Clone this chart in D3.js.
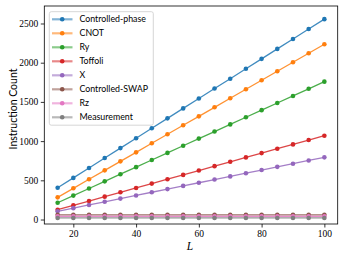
<!DOCTYPE html>
<head>
    <meta charset="utf-8">
    <script src="https://d3js.org/d3.v7.min.js"></script>
    <style>
        body { margin: 0; background: #fff; }
        .tick text { font-family: "Liberation Serif", serif; font-size: 9.5px; fill: #000; }
        .legend text { font-family: Lato, sans-serif; font-size: 8.8px; fill: #000; }
    </style>
</head>
<body>
    <svg id="chart" width="344" height="258"></svg>
    <script type="text/javascript">
        // L values along the x axis
        var Ls = [15, 20, 25, 30, 35, 40, 45, 50, 55, 60, 65, 70, 75, 80, 85, 90, 95, 100];

        var names = ["Controlled-phase", "CNOT", "Ry", "Toffoli", "X", "Controlled-SWAP", "Rz", "Measurement"];
        var colors = ["#1f77b4", "#ff7f0e", "#2ca02c", "#d62728", "#9467bd", "#8c564b", "#e377c2", "#7f7f7f"];

        var controlledPhase = [405, 531, 658, 784, 911, 1037, 1164, 1290, 1417, 1543, 1670, 1796, 1923, 2049, 2176, 2302, 2429, 2555];
        var cnot = [283, 398, 513, 627, 742, 857, 972, 1087, 1202, 1316, 1431, 1546, 1661, 1776, 1891, 2005, 2120, 2235];
        var ry = [214, 305, 396, 487, 578, 668, 759, 850, 941, 1032, 1122, 1213, 1304, 1395, 1486, 1576, 1667, 1758];
        var toffoli = [125, 181, 236, 292, 347, 403, 458, 514, 569, 625, 681, 736, 792, 847, 903, 958, 1014, 1069];
        var xGate = [105, 145, 186, 226, 267, 307, 348, 388, 429, 469, 510, 550, 591, 631, 672, 712, 753, 793];
        var cswap = [60, 60, 60, 60, 60, 60, 60, 60, 60, 60, 60, 60, 60, 60, 60, 60, 60, 60];
        var rz = [40, 40, 40, 40, 40, 40, 40, 40, 40, 40, 40, 40, 40, 40, 40, 40, 40, 40];
        var measurement = [20, 20, 20, 20, 20, 20, 20, 20, 20, 20, 20, 20, 20, 20, 20, 20, 20, 20];

        var yTicks = [0, 500, 1000, 1500, 2000, 2500];
        var xTicks = [20, 40, 60, 80, 100];

        var seriesValues = [controlledPhase, cnot, ry, toffoli, xGate, cswap, rz, measurement];
        var series = names.map(function(n, i) {
            return { name: n, color: colors[i], values: seriesValues[i] };
        });

        var plotLeft = 44.3, plotRight = 337.7, plotTop = 6, plotBottom = 224;
        var svg = d3.select("#chart");

        var x = d3.scaleLinear().domain([10.75, 104.25]).range([plotLeft, plotRight]);
        var y = d3.scaleLinear().domain([-57, 2723]).range([plotBottom, plotTop]);

        // axes
        var xAxis = svg.append("g")
            .attr("transform", "translate(0," + plotBottom + ")")
            .call(d3.axisBottom(x).tickValues(xTicks).tickFormat(d3.format("d")).tickSize(3.5).tickPadding(2.5));
        var yAxis = svg.append("g")
            .attr("transform", "translate(" + plotLeft + ",0)")
            .call(d3.axisLeft(y).tickValues(yTicks).tickFormat(d3.format("d")).tickSize(3.5).tickPadding(2.5));
        [xAxis, yAxis].forEach(function(a) {
            a.select(".domain").remove();
            a.selectAll(".tick line").attr("stroke", "#000").attr("stroke-width", 0.8);
        });

        // lines + markers
        var line = d3.line()
            .x(function(d, i) { return x(Ls[i]); })
            .y(function(d) { return y(d); });

        series.forEach(function(s) {
            svg.append("path")
                .attr("d", line(s.values))
                .attr("fill", "none")
                .attr("stroke", s.color)
                .attr("stroke-opacity", 0.85)
                .attr("stroke-width", 1.3);
            svg.append("g").selectAll("circle")
                .data(s.values).enter()
                .append("circle")
                .attr("cx", function(d, i) { return x(Ls[i]); })
                .attr("cy", function(d) { return y(d); })
                .attr("r", 2.3)
                .attr("fill", s.color);
        });

        // frame
        svg.append("rect")
            .attr("x", plotLeft).attr("y", plotTop)
            .attr("width", plotRight - plotLeft).attr("height", plotBottom - plotTop)
            .attr("fill", "none").attr("stroke", "#000").attr("stroke-width", 0.8);

        // legend
        var lg = svg.append("g").attr("class", "legend");
        lg.append("rect")
            .attr("x", 49.3).attr("y", 11.7)
            .attr("width", 104).attr("height", 113.5)
            .attr("rx", 2)
            .attr("fill", "#fff").attr("fill-opacity", 0.8)
            .attr("stroke", "#ccc").attr("stroke-width", 0.8);
        series.forEach(function(s, i) {
            var ly = 19.3 + i * 14;
            lg.append("line")
                .attr("x1", 52).attr("x2", 72.5)
                .attr("y1", ly).attr("y2", ly)
                .attr("stroke", s.color).attr("stroke-opacity", 0.55)
                .attr("stroke-width", 2.2);
            lg.append("circle")
                .attr("cx", 62.2).attr("cy", ly).attr("r", 2.3)
                .attr("fill", s.color);
            lg.append("text")
                .attr("x", 79.5).attr("y", ly)
                .attr("dy", "0.35em")
                .text(s.name);
        });

        // axis labels
        svg.append("text")
            .attr("transform", "translate(13,109) rotate(-90)")
            .attr("text-anchor", "middle")
            .attr("dy", "0.35em")
            .style("font-family", "Lato, sans-serif")
            .style("font-size", "10.5px")
            .text("Instruction Count");
        svg.append("text")
            .attr("x", 190).attr("y", 246)
            .attr("text-anchor", "middle")
            .attr("dy", "0.35em")
            .style("font-family", "Liberation Serif, serif")
            .style("font-style", "italic")
            .style("font-size", "11.5px")
            .text("L");
    </script>
</body>
